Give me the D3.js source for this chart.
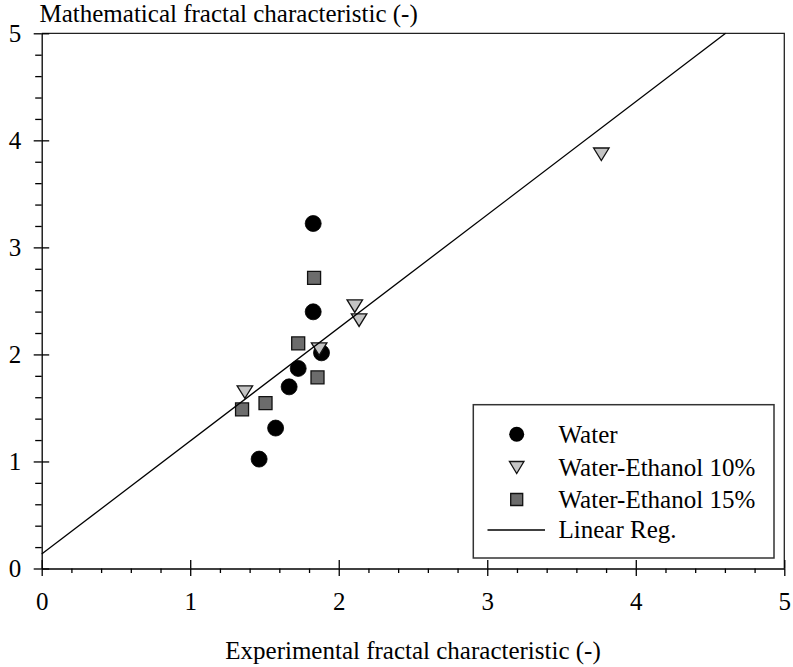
<!DOCTYPE html>
<html>
<head>
<meta charset="utf-8">
<script src="https://cdn.jsdelivr.net/npm/d3@7"></script>
<style>
  html, body { margin: 0; padding: 0; background: #fff; }
  svg { display: block; }
  text { font-family: "Liberation Serif", "Times New Roman", serif; fill: #000; }
</style>
</head>
<body>
<svg id="chart" width="793" height="667"></svg>
<script>
// Experimental vs. mathematical fractal characteristic
const waterX = [1.828, 1.828, 1.884, 1.727, 1.666, 1.575, 1.464];
const waterY = [3.223, 2.398, 2.015, 1.869, 1.697, 1.312, 1.022];

const eth10X = [1.368, 1.868, 2.108, 2.137, 3.768];
const eth10Y = [1.648, 2.049, 2.451, 2.320, 3.870];

const eth15X = [1.349, 1.507, 1.727, 1.834, 1.857];
const eth15Y = [1.486, 1.545, 2.103, 2.715, 1.785];

// linear regression y = a + b x
const regIntercept = 0.135;
const regSlope = 1.0565;

const majorTicks = [0, 1, 2, 3, 4, 5];
const minorTicks = d3.range(0, 5.0001, 0.2).filter(v => Math.abs(v - Math.round(v)) > 1e-6);

const legendLabels = ["Water", "Water-Ethanol 10%", "Water-Ethanol 15%", "Linear Reg."];
const xTitle = "Experimental fractal characteristic (-)";
const yTitle = "Mathematical fractal characteristic (-)";

const svg = d3.select("#chart");
const x = d3.scaleLinear().domain([0, 5]).range([41.7, 784.3]);
const y = d3.scaleLinear().domain([0, 5]).range([568.5, 33.3]);

const FONT = 25;
const SERIF = "Liberation Serif, Times New Roman, serif";
const axisColor = "#000";

// frame (top and right)
svg.append("path")
  .attr("d", `M${x(0)},${y(5)}H${x(5)}V${y(0)}`)
  .attr("fill", "none").attr("stroke", "#222").attr("stroke-width", 1.3);

// y axis
const yAxisG = svg.append("g").attr("transform", `translate(${x(0)},0)`);
yAxisG.call(d3.axisLeft(y).tickValues(majorTicks).tickSize(8).tickSizeOuter(0).tickFormat(d3.format("d")));
yAxisG.append("g").call(d3.axisLeft(y).tickValues(minorTicks).tickSize(6.5).tickSizeOuter(0).tickFormat(""))
  .select(".domain").remove();
yAxisG.selectAll(".tick").filter(d => majorTicks.includes(d)).append("line")
  .attr("x1", 0).attr("x2", 7.5).attr("stroke", axisColor);
yAxisG.attr("font-family", SERIF);
yAxisG.selectAll("text").attr("x", -20.5).attr("font-size", FONT).style("font-family", SERIF);

// x axis
const xAxisG = svg.append("g").attr("transform", `translate(0,${y(0)})`);
xAxisG.call(d3.axisBottom(x).tickValues(majorTicks).tickSize(7.5).tickSizeOuter(0).tickFormat(d3.format("d")));
xAxisG.append("g").call(d3.axisBottom(x).tickValues(minorTicks).tickSize(4.5).tickSizeOuter(0).tickFormat(""))
  .select(".domain").remove();
xAxisG.selectAll(".tick").filter(d => majorTicks.includes(d)).append("line")
  .attr("y1", 0).attr("y2", -8.5).attr("stroke", axisColor);
xAxisG.attr("font-family", SERIF);
xAxisG.selectAll("text").attr("y", 41.5).attr("dy", 0).attr("font-size", FONT).style("font-family", SERIF);

svg.selectAll(".domain, .tick line").attr("stroke", axisColor).attr("stroke-width", 1.3);

// axis titles
svg.append("text").attr("x", 39.5).attr("y", 22).attr("font-size", FONT).text(yTitle);
svg.append("text").attr("x", (x(0) + x(5)) / 2).attr("y", 659).attr("text-anchor", "middle")
  .attr("font-size", FONT).text(xTitle);

// marker shapes
const circlePath = r => `M${r},0A${r},${r} 0 1,1 ${-r},0A${r},${r} 0 1,1 ${r},0Z`;
const triPath = (w, h) => `M${-w / 2},${-h / 2}L${w / 2},${-h / 2}L0,${h / 2}Z`;
const sqPath = s => `M${-s / 2},${-s / 2}h${s}v${s}h${-s}Z`;

const markers = {
  water: { d: circlePath(8), fill: "#000", stroke: "#000", sw: 0.8 },
  eth10: { d: triPath(15.5, 12.5), fill: "#c4c4c4", stroke: "#111", sw: 1.3 },
  eth15: { d: sqPath(13), fill: "#6c6c6c", stroke: "#111", sw: 1.3 }
};

function drawSeries(xs, ys, m, cls) {
  svg.append("g").attr("class", cls).selectAll("path")
    .data(xs.map((v, i) => [v, ys[i]]))
    .join("path")
    .attr("transform", d => `translate(${x(d[0])},${y(d[1])})`)
    .attr("d", m.d).attr("fill", m.fill).attr("stroke", m.stroke).attr("stroke-width", m.sw);
}
drawSeries(waterX, waterY, markers.water, "water");
drawSeries(eth15X, eth15Y, markers.eth15, "eth15");
drawSeries(eth10X, eth10Y, markers.eth10, "eth10");

// regression line, clipped at the top of the plot
const xEnd = (5 - regIntercept) / regSlope;
svg.append("line")
  .attr("x1", x(0)).attr("y1", y(regIntercept))
  .attr("x2", x(xEnd)).attr("y2", y(5))
  .attr("stroke", "#000").attr("stroke-width", 1.3);

// legend
const lg = svg.append("g");
lg.append("rect").attr("x", 473.3).attr("y", 404.7).attr("width", 300.7).attr("height", 153.3)
  .attr("fill", "#fff").attr("stroke", "#333").attr("stroke-width", 1.5);
const rowY = [434.3, 467.5, 499.5, 530];
const symX = 516.7, textX = 558.5;
lg.append("path").attr("transform", `translate(${symX},${rowY[0]})`).attr("d", circlePath(7.5)).attr("fill", "#000");
lg.append("path").attr("transform", `translate(${symX},${rowY[1]})`).attr("d", triPath(14.5, 12))
  .attr("fill", markers.eth10.fill).attr("stroke", "#111").attr("stroke-width", 1.3);
lg.append("path").attr("transform", `translate(${symX},${rowY[2]})`).attr("d", sqPath(12))
  .attr("fill", markers.eth15.fill).attr("stroke", "#111").attr("stroke-width", 1.3);
lg.append("line").attr("x1", 487.5).attr("x2", 545).attr("y1", rowY[3]).attr("y2", rowY[3])
  .attr("stroke", "#000").attr("stroke-width", 1.3);
lg.selectAll("text.lab").data(legendLabels).join("text").attr("class", "lab")
  .attr("x", textX).attr("y", (d, i) => rowY[i]).attr("dy", "0.33em")
  .attr("font-size", FONT).text(d => d);
</script>
</body>
</html>
